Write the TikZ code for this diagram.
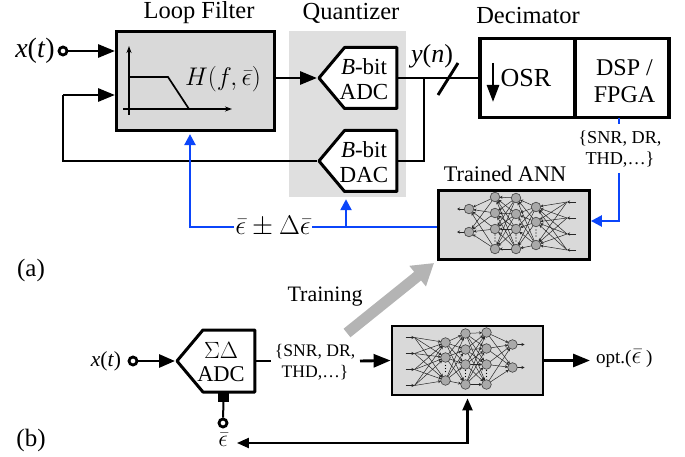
\documentclass[tikz,border=0pt]{standalone}
\usepackage{fix-cm}
\usepackage{fontspec}
\setmainfont{Liberation Serif}
\usepackage{amsmath}
\usepackage{xcolor}
\usetikzlibrary{shapes.symbols, arrows.meta, positioning}

\definecolor{boxgray}{HTML}{D9D9D9}
\definecolor{quantgray}{HTML}{DFDFDF}
\definecolor{nodegray}{HTML}{A9A9A9}
\definecolor{trainblue}{HTML}{0B45FA}
\definecolor{traingray}{HTML}{B4B4B4}

\newcommand{\fsz}[1]{\fontsize{#1}{#1}\selectfont}

\tikzset{
    annnet/.pic={
        \foreach \ya in {-16,7} {
            \draw[annline, shorten >=0pt] (-45,\ya) -- (-57,\ya);
            \foreach \yb in {-28,-12,4,24} \draw[annline] (-19,\yb) -- (-45,\ya);
        }
        \foreach \ya in {-28,-12,4,24} \foreach \yb in {-27,-11,4,24} \draw[annline] (2,\yb) -- (-19,\ya);
        \foreach \ya in {-27,-11,4,24} \foreach \yb in {-18,-3,20} \draw[annline] (22,\yb) -- (2,\ya);
        \foreach \ya in {-18,-3,20} \foreach \yb in {-23,-7,9,25} \draw[annline] (53,\yb) -- (22,\ya);
        \foreach \yb in {-23,-7,9,25} \draw[annline, shorten >=0pt] (62,\yb) -- (53,\yb);
        \foreach \x/\y in {-45/-16,-45/7,-19/-28,-19/-12,-19/4,-19/24,2/-27,2/-11,2/4,2/24,22/-18,22/-3,22/20}
            \filldraw[fill=nodegray, draw=black!75, line width=0.6pt] (\x,\y) circle[radius=4.8];
        \foreach \x/\y in {-19/13,2/13,22/8}
            \foreach \d in {-3,0,3} \fill (\x,\y+\d) circle[radius=0.6];
    },
}

\begin{document}
\begin{tikzpicture}[
    x=1pt, y=-1pt,
    block/.style={rectangle, draw, line width=3.2pt, inner sep=0pt, align=center},
    filterbox/.style={block, fill=boxgray, minimum width=158pt, minimum height=99pt},
    annbox/.style={block, line width=2.8pt, fill=boxgray, minimum width=151pt, minimum height=69pt},
    conv/.style={signal, signal to=west, signal from=nowhere, signal pointer angle=100, draw, line join=round, fill=white,
        inner sep=0pt, line width=3pt, minimum width=78pt, minimum height=61pt},
    port/.style={circle, draw, fill=white, line width=2.8pt, minimum size=8pt, inner sep=0pt},
    wire/.style={line width=2.9pt},
    arrow/.style={wire, -{Triangle[length=17pt,width=13pt]}},
    bluewire/.style={line width=2.4pt, draw=trainblue},
    bluearrow/.style={bluewire, -{Triangle[length=11pt,width=11pt]}},
    label/.style={inner sep=0pt, align=center},
    annline/.style={line width=0.5pt, draw=black!85, -{Stealth[length=3pt,width=3pt]}, shorten >=4.5pt},
]
    \useasboundingbox (0,0) rectangle (685,457);

    \node[rectangle, fill=quantgray, minimum width=117pt, minimum height=166pt, inner sep=0pt] (quant) at (347.5,114) {};
    \node[filterbox] (loop) at (195.5,81) {};
    \node[label, font=\fsz{24.5}] (looplabel) at (199,13) {Loop Filter};
    \node[label, font=\fsz{24.5}] (quantlabel) at (351,13) {Quantizer};
    \node[label, font=\fsz{24.5}] (decilabel) at (528,16) {Decimator};

    \node[label, font=\fsz{28}] (xin) at (35,51) {\textit{x}(\textit{t})};
    \node[port] (xport) at (63,51) {};
    \draw[arrow] (xport) -- (115,51);
    \node[label] (hf) at (223,79) {\fsz{25.5}$H(f,\bar{\epsilon})$};

    \draw[line width=1.7pt, -{Stealth[length=7pt,width=5pt]}] (129,115) -- (129,46);
    \draw[line width=1.7pt, -{Stealth[length=7pt,width=5pt]}] (123,109) -- (232,109);
    \draw[line width=1.7pt] (129,77) -- (168,77) -- (189,109);

    \node[conv, anchor=west] (adc) at (317,78) {};
    \node[conv, anchor=west] (dac) at (317,161) {};
    \node[label, font=\fsz{23}] (adctxt) at (364,79) {\textit{B}-bit\\[2pt]ADC};
    \node[label, font=\fsz{23}] (dactxt) at (364,162) {\textit{B}-bit\\[2pt]DAC};
    \draw[arrow] (loop.east |- adc.west) -- (adc.west);

    \node[block, minimum width=95pt, minimum height=79pt] (osrbox) at (527.5,78) {};
    \node[block, minimum width=94pt, minimum height=79pt] (dspbox) at (622,78) {};
    \node[label, font=\fsz{24}] (dsptxt) at (624.5,81) {DSP /\\[3pt]FPGA};
    \node[label, font=\fsz{26}] (osr) at (526,78) {OSR};
    \draw[line width=2.8pt, -{Triangle[length=17pt,width=12pt]}] (493,63) -- (493,102);
    \node[label, font=\fsz{26}] (yout) at (432,56) {\textit{y}(\textit{n})};

    \coordinate (tap) at (424,78);
    \coordinate (slasha) at (438,95);
    \coordinate (slashb) at (458,63);
    \coordinate (fbk) at (63,95);
    \draw[wire] (adc.east) -- (osrbox.west);
    \draw[wire] (tap) |- (dac.east);
    \draw[wire] (slasha) -- (slashb);
    \draw[wire] (dac.west) -| (fbk);
    \draw[arrow] (fbk) -- (115,95);

    \node[annbox] (anna) at (514,225) {};
    \pic at (anna) {annnet};
    \node[label, font=\fsz{22.3}] (annlabel) at (505,174) {Trained ANN};
    \node[label, font=\fsz{18.2}, minimum height=46pt] (meta) at (620,149) {\{SNR, DR,\\[2pt]THD,\ldots\}};
    \coordinate (metain) at (619,118);
    \coordinate (metaout) at (619,173);
    \coordinate (metatop) at (619,124);
    \draw[bluewire] (metain) -- (metatop);
    \draw[bluearrow] (metaout) |- ([yshift=4pt]anna.east);

    \node[label] (epsd) at (273,226) {\fsz{27}$\bar{\epsilon}\pm\Delta\bar{\epsilon}$};
    \coordinate (epstap) at (346,227);
    \draw[bluewire] ([yshift=-2pt]anna.west) -- ([xshift=1pt]epsd.east |- epstap);
    \draw[bluearrow] ([xshift=-1pt]epsd.west |- epstap) -| ([xshift=-5.5pt,yshift=-2pt]loop.south);
    \draw[bluearrow] (epstap) -- ([xshift=-1.5pt,yshift=-2pt]quant.south);

    \node[label, font=\fsz{25}] (parta) at (31,270) {(a)};
    \node[label, font=\fsz{25}] (partb) at (31,440) {(b)};

    \node[label, font=\fsz{22}] (train) at (325,297) {Training};
    \coordinate (trainstart) at (347,333);
    \coordinate (trainend) at (434,263);
    \draw[line width=11pt, traingray, -{Triangle[length=21pt,width=25pt]}] (trainstart) -- (trainend);

    \node[label, font=\fsz{21.5}] (xinb) at (106,361) {\textit{x}(\textit{t})};
    \node[port] (xportb) at (133,361) {};
    \node[conv, anchor=west, minimum height=62pt] (sd) at (175,361) {};
    \node[label, font=\fsz{22.5}] (sdtxt) at (221,362) {\fsz{23.5}$\Sigma\Delta$\\[1pt]ADC};
    \draw[wire, -{Triangle[length=16pt,width=13pt]}] (xportb) -- (sd.west);

    \node[annbox] (annb) at (467.5,360.5) {};
    \pic[xscale=-1] at (annb) {annnet};
    \node[label, font=\fsz{17.6}] (metab) at (315,362) {\{SNR, DR,\\[3pt]THD,\ldots\}};
    \coordinate (sdout) at (271,361);
    \coordinate (annin) at (360,361);
    \draw[wire] (sd.east |- sdout) -- (sdout);
    \draw[arrow] (annin) -- (annb.west);
    \node[label, font=\fsz{19}, anchor=west] (opt) at (596,359) {opt.(\fsz{25}$\bar{\epsilon}$\fsz{19} )};
    \draw[arrow, shorten >=6pt] (annb.east) -- (opt.west |- annb.east);

    \node[rectangle, fill=black, minimum width=11pt, minimum height=9pt, inner sep=0pt] (pin) at (223.5,397.5) {};
    \node[port] (epsport) at (223,423) {};
    \node[label, font=\fsz{24}] (epsb) at (223,440) {$\bar{\epsilon}$};
    \draw[line width=2pt] (pin) -- (epsport);
    \draw[line width=2.2pt, {Triangle[length=12pt,width=10pt]}-{Triangle[length=12pt,width=10pt]}, shorten <=9pt, shorten >=2pt] ([yshift=-3pt]epsb.east) -| (annb.south);
\end{tikzpicture}
\end{document}
